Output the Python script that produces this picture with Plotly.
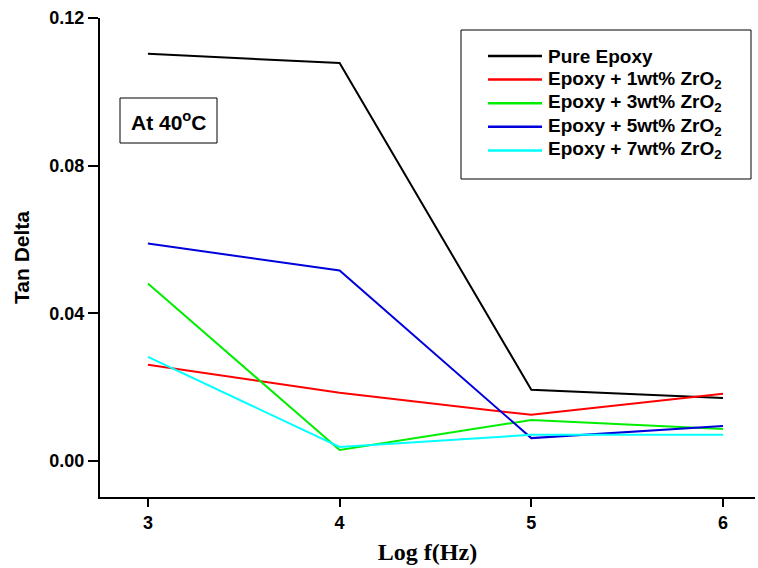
import plotly.graph_objects as go

x_vals = [3, 4, 5, 6]
pure_epoxy = [0.1103, 0.1078, 0.0193, 0.0171]
zro2_1wt = [0.0261, 0.0185, 0.0125, 0.0182]
zro2_3wt = [0.0481, 0.0030, 0.0111, 0.0087]
zro2_5wt = [0.0589, 0.0516, 0.0062, 0.0095]
zro2_7wt = [0.0282, 0.0038, 0.0071, 0.0071]

names = ["Pure Epoxy",
         "Epoxy + 1wt% ZrO<sub>2</sub>",
         "Epoxy + 3wt% ZrO<sub>2</sub>",
         "Epoxy + 5wt% ZrO<sub>2</sub>",
         "Epoxy + 7wt% ZrO<sub>2</sub>"]
series = [pure_epoxy, zro2_1wt, zro2_3wt, zro2_5wt, zro2_7wt]
colors = ["#000000", "#ff0000", "#00ee00", "#0000dd", "#00ffff"]

# plot area in pixels: x 100..755, y 18..497
def px_x(p):
    return (p - 100) / 655.0

def px_y(p):
    return (497 - p) / 479.0

fig = go.Figure()
for n, s, c in zip(names, series, colors):
    fig.add_trace(go.Scatter(x=x_vals, y=s, mode="lines", name=n,
                             line=dict(color=c, width=2), showlegend=False))

# manual legend box
fig.add_shape(type="rect", xref="paper", yref="paper",
              x0=px_x(461), x1=px_x(751), y0=px_y(179), y1=px_y(30),
              line=dict(color="black", width=1), fillcolor="white", layer="above")
for i, (n, c) in enumerate(zip(names, colors)):
    yy = px_y(56 + 23.6 * i)
    fig.add_shape(type="line", xref="paper", yref="paper",
                  x0=px_x(488), x1=px_x(542), y0=yy, y1=yy,
                  line=dict(color=c, width=2.5), layer="above")
    fig.add_annotation(xref="paper", yref="paper", x=px_x(546), y=yy,
                       xanchor="left", yanchor="middle", showarrow=False,
                       text="<b>" + n + "</b>",
                       font=dict(size=19, color="black", family="Arial, Liberation Sans"))

fig.update_layout(
    width=758, height=568,
    margin=dict(l=100, r=3, t=18, b=71),
    plot_bgcolor="white", paper_bgcolor="white",
    font=dict(family="Arial, Liberation Sans", color="black"),
    showlegend=False,
    xaxis=dict(range=[2.75, 6.167], tickvals=[3, 4, 5, 6],
               ticktext=["<b>3</b>", "<b>4</b>", "<b>5</b>", "<b>6</b>"],
               showline=True, linecolor="black", linewidth=2, mirror=False,
               ticks="outside", ticklen=8, tickwidth=2, tickcolor="black",
               showgrid=False, zeroline=False,
               tickfont=dict(size=18),
               title=dict(text="<b>Log f(Hz)</b>",
                          font=dict(size=24, family="Liberation Serif, Times New Roman"),
                          standoff=12)),
    yaxis=dict(range=[-0.00975, 0.12], tickvals=[0, 0.04, 0.08, 0.12],
               ticktext=["<b>0.00</b>", "<b>0.04</b>", "<b>0.08</b>", "<b>0.12</b>"],
               showline=True, linecolor="black", linewidth=2, mirror=False,
               ticks="outside", ticklen=10, tickwidth=2, tickcolor="black",
               showgrid=False, zeroline=False,
               tickfont=dict(size=18),
               title=dict(text="<b>Tan Delta</b>", font=dict(size=21), standoff=14)),
)

fig.add_shape(type="rect", xref="paper", yref="paper",
              x0=px_x(120), x1=px_x(217), y0=px_y(143), y1=px_y(98),
              line=dict(color="black", width=1), fillcolor="white", layer="above")
fig.add_annotation(xref="paper", yref="paper", x=px_x(168.5), y=px_y(121),
                   xanchor="center", yanchor="middle",
                   text="<b>At 40<sup>o</sup>C</b>", showarrow=False,
                   font=dict(size=21, color="black"))

fig.write_html("out.html", config={"displayModeBar": False},
               post_script="document.body.style.margin='0';")
